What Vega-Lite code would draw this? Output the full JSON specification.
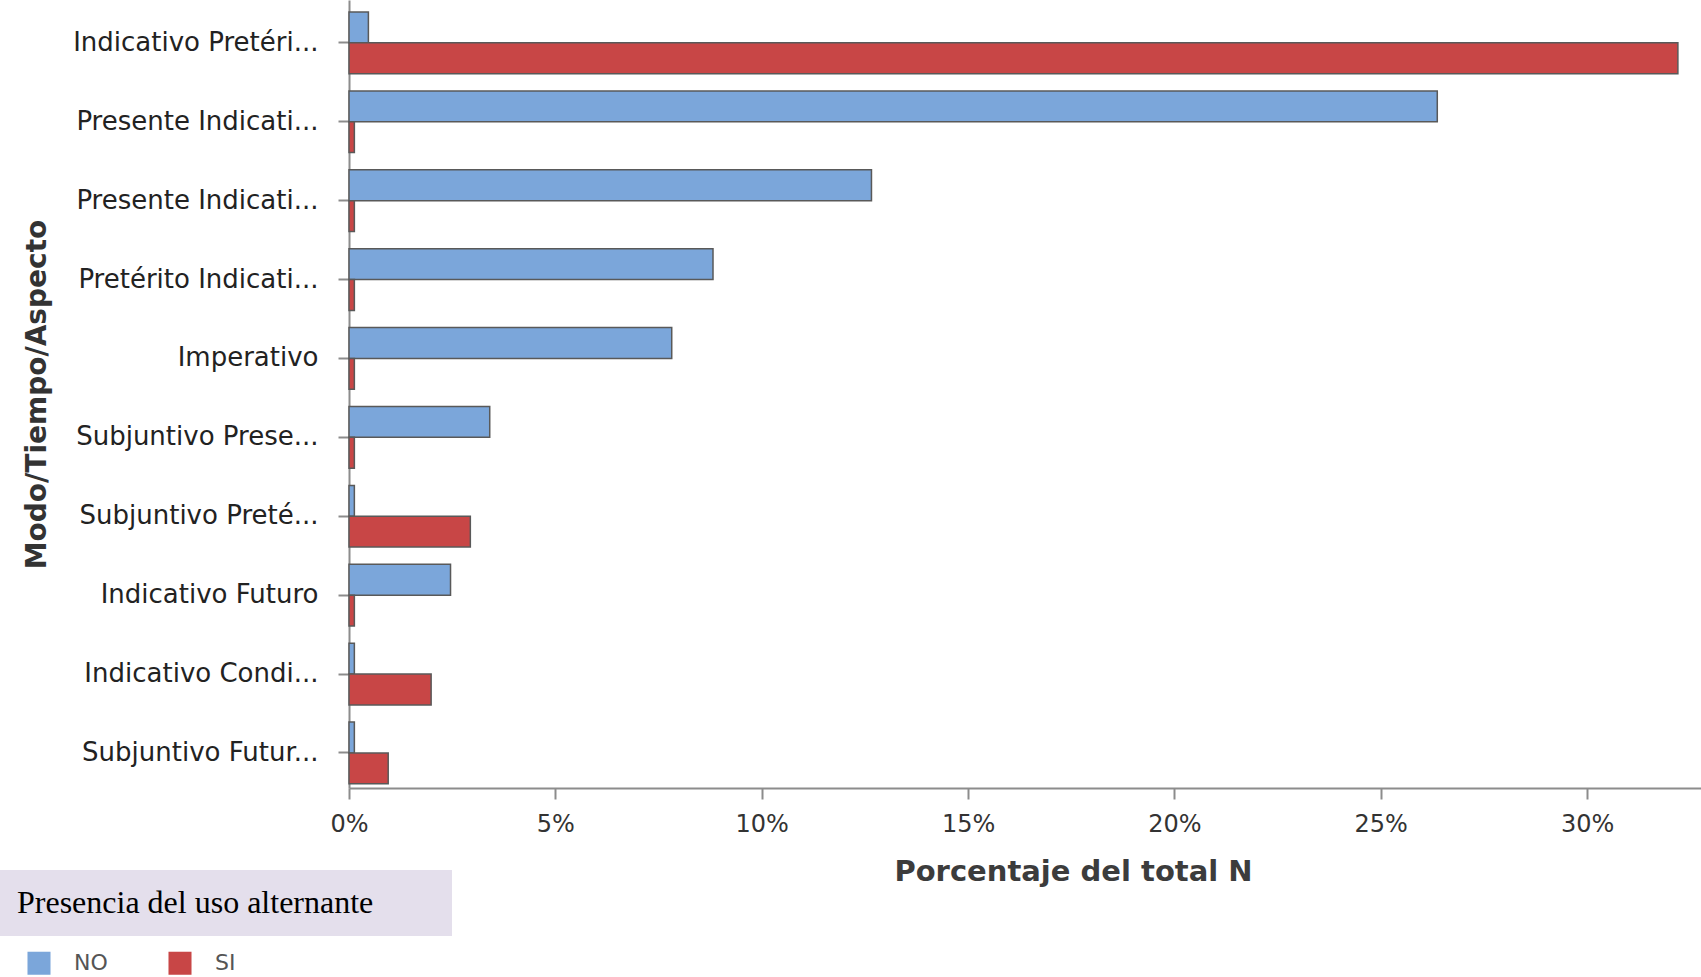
{
  "$schema": "https://vega.github.io/schema/vega-lite/v6.json",
  "autosize": {"type": "none"},
  "padding": {"left": 349, "top": 0, "right": 0, "bottom": 189},
  "width": 1352,
  "height": 788,
  "background": "white",
  "config": {"view": {"stroke": null}},
  "data": {"values": [
    {"modo": "Indicativo Pretéri...|1", "uso": "NO", "pct": 0.47},
    {"modo": "Indicativo Pretéri...|1", "uso": "SI", "pct": 32.2},
    {"modo": "Presente Indicati...|2", "uso": "NO", "pct": 26.37},
    {"modo": "Presente Indicati...|2", "uso": "SI", "pct": 0.13},
    {"modo": "Presente Indicati...|3", "uso": "NO", "pct": 12.66},
    {"modo": "Presente Indicati...|3", "uso": "SI", "pct": 0.13},
    {"modo": "Pretérito Indicati...|4", "uso": "NO", "pct": 8.82},
    {"modo": "Pretérito Indicati...|4", "uso": "SI", "pct": 0.13},
    {"modo": "Imperativo|5", "uso": "NO", "pct": 7.82},
    {"modo": "Imperativo|5", "uso": "SI", "pct": 0.13},
    {"modo": "Subjuntivo Prese...|6", "uso": "NO", "pct": 3.41},
    {"modo": "Subjuntivo Prese...|6", "uso": "SI", "pct": 0.13},
    {"modo": "Subjuntivo Preté...|7", "uso": "NO", "pct": 0.13},
    {"modo": "Subjuntivo Preté...|7", "uso": "SI", "pct": 2.94},
    {"modo": "Indicativo Futuro|8", "uso": "NO", "pct": 2.46},
    {"modo": "Indicativo Futuro|8", "uso": "SI", "pct": 0.13},
    {"modo": "Indicativo Condi...|9", "uso": "NO", "pct": 0.13},
    {"modo": "Indicativo Condi...|9", "uso": "SI", "pct": 1.99},
    {"modo": "Subjuntivo Futur...|10", "uso": "NO", "pct": 0.13},
    {"modo": "Subjuntivo Futur...|10", "uso": "SI", "pct": 0.95}
  ]},
  "mark": {"type": "bar", "stroke": "#595959", "strokeWidth": 1.5},
  "encoding": {
    "y": {
      "field": "modo", "type": "nominal", "sort": null,
      "scale": {"paddingInner": 0.218, "paddingOuter": 0.103, "align": 0.74},
      "axis": {
        "title": "Modo/Tiempo/Aspecto",
        "titleFont": "DejaVu Sans", "titleFontSize": 28, "titleFontWeight": "bold", "titleColor": "#333333",
        "titleX": -304, "titleY": 394, "titleBaseline": "alphabetic", "titleAngle": 270,
        "labelExpr": "split(datum.label, '|')[0]",
        "labelFont": "DejaVu Sans", "labelFontSize": 26, "labelColor": "#222222",
        "labelPadding": 20, "labelLimit": 0,
        "tickSize": 11, "tickWidth": 2, "tickColor": "#8c8c8c",
        "domainColor": "#8c8c8c", "domainWidth": 2
      }
    },
    "yOffset": {
      "field": "uso", "type": "nominal", "sort": ["NO", "SI"],
      "scale": {"paddingInner": 0, "paddingOuter": 0}
    },
    "x": {
      "field": "pct", "type": "quantitative",
      "scale": {"domain": [0, 32.76], "nice": false, "zero": true},
      "axis": {
        "title": "Porcentaje del total N",
        "titleFont": "DejaVu Sans", "titleFontSize": 29, "titleFontWeight": "bold", "titleColor": "#3c3c3c",
        "titleX": 724, "titleY": 92, "titleBaseline": "alphabetic",
        "values": [0, 5, 10, 15, 20, 25, 30],
        "labelExpr": "datum.value + '%'",
        "labelFont": "DejaVu Sans", "labelFontSize": 24, "labelColor": "#333333",
        "labelPadding": 13, "labelFlush": false, "labelOverlap": false,
        "grid": false,
        "tickSize": 11, "tickWidth": 2, "tickColor": "#8c8c8c",
        "domainColor": "#8c8c8c", "domainWidth": 2
      }
    },
    "color": {
      "field": "uso", "type": "nominal",
      "scale": {"domain": ["NO", "SI"], "range": ["#7BA6DA", "#C84646"]},
      "legend": {
        "orient": "none", "legendX": -322, "legendY": 951,
        "direction": "horizontal", "title": null,
        "symbolType": "square", "symbolSize": 530, "symbolStrokeWidth": 0,
        "labelFont": "DejaVu Sans", "labelFontSize": 22, "labelColor": "#555555",
        "labelOffset": 23, "columnPadding": 60, "padding": 0
      }
    },
    "opacity": {
      "datum": "Presencia del uso alternante", "type": "nominal",
      "scale": {"domain": ["Presencia del uso alternante"], "range": [1]},
      "legend": {
        "orient": "none", "legendX": -349, "legendY": 870,
        "values": ["Presencia del uso alternante"],
        "labelExpr": "''",
        "symbolType": "square", "symbolSize": 1024, "symbolStrokeWidth": 0,
        "symbolFillColor": "#E4DFEC", "symbolStrokeColor": "#E4DFEC",
        "labelFontSize": 1, "labelOffset": 29, "labelColor": "#E4DFEC",
        "title": "Presencia del uso alternante",
        "titleOrient": "left",
        "titleFont": "Liberation Serif", "titleFontSize": 32, "titleFontWeight": "normal", "titleColor": "#000000",
        "titlePadding": 0, "titleLimit": 0,
        "fillColor": "#E4DFEC", "strokeColor": null, "padding": 17
      }
    }
  }
}
